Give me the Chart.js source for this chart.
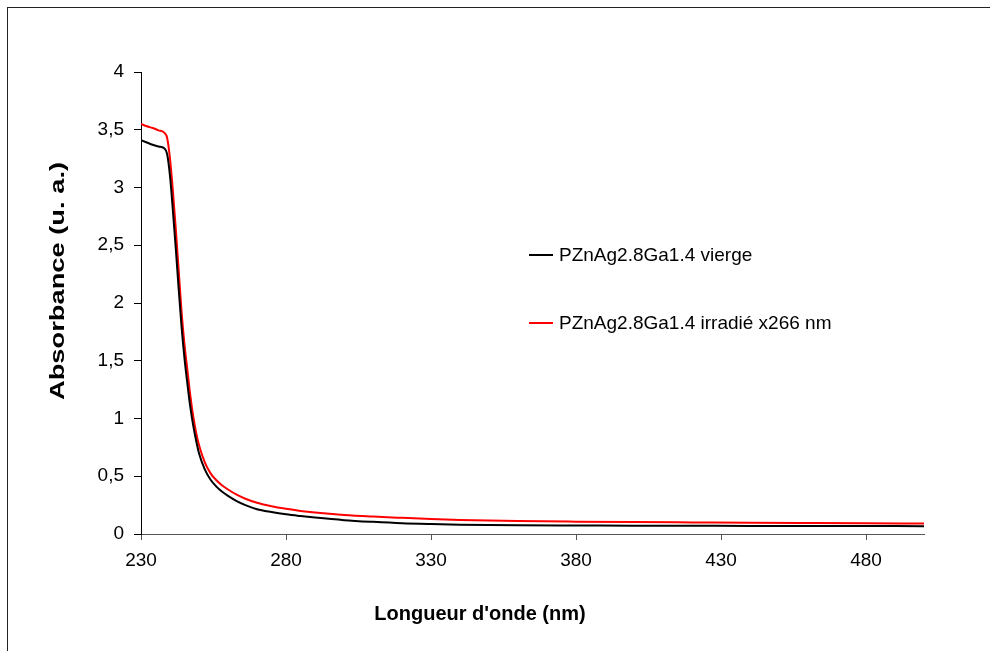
<!DOCTYPE html>
<html>
<head>
<meta charset="utf-8">
<script src="https://cdn.jsdelivr.net/npm/chart.js@4.4.1/dist/chart.umd.min.js"></script>
<style>
  html,body{margin:0;padding:0;background:#fff;overflow:hidden}
  #frame{position:absolute;left:7px;top:7px;width:1100px;height:800px;border:1px solid #222;box-sizing:border-box}
  #wrap{position:absolute;left:0;top:0;width:990px;height:651px}
</style>
</head>
<body>
<div id="frame"></div>
<div id="wrap"><canvas id="chart" width="990" height="651"></canvas></div>
<script>
// wavelength (nm)
const wavelengths = [230,232,234,236,238,239,240,241,242,243,244,245,246,247,248,249,250,252,254,256,258,260,263,266,270,275,280,285,290,300,310,320,330,340,350,360,380,400,420,440,460,480,500];
// absorbance, sample as made
const vierge = [3.41,3.39,3.37,3.355,3.34,3.29,3.1,2.8,2.47,2.12,1.79,1.52,1.3,1.1,0.94,0.81,0.7,0.56,0.47,0.41,0.365,0.33,0.285,0.25,0.215,0.19,0.17,0.155,0.142,0.12,0.105,0.093,0.086,0.081,0.078,0.076,0.074,0.072,0.071,0.07,0.07,0.069,0.068];
// absorbance, after 266 nm irradiation
const irradie = [3.55,3.53,3.515,3.495,3.475,3.43,3.25,2.97,2.64,2.28,1.92,1.64,1.42,1.2,1.02,0.88,0.77,0.62,0.525,0.465,0.42,0.385,0.34,0.305,0.27,0.24,0.218,0.2,0.186,0.165,0.151,0.14,0.13,0.122,0.116,0.112,0.107,0.103,0.1,0.097,0.095,0.093,0.09];
const seriesNames = ['PZnAg2.8Ga1.4 vierge','PZnAg2.8Ga1.4 irradié x266 nm'];
const xTicks = [230,280,330,380,430,480];
const yTicks = [0,0.5,1,1.5,2,2.5,3,3.5,4];

const FONT = 'Arial, "Liberation Sans", sans-serif';

const pairs = ys => wavelengths.map((x,i)=>({x, y: ys[i]}));

// axis titles + legend, placed like the original sheet
const decor = {
  id:'decor',
  afterDraw(chart){
    const ctx = chart.ctx;
    ctx.save();
    ctx.fillStyle = '#000';
    ctx.font = 'bold 20px ' + FONT;
    ctx.textAlign = 'center'; ctx.textBaseline = 'middle';
    ctx.fillText("Longueur d'onde (nm)", 480, 614);
    // the rotated title is drawn longer in the original
    ctx.font = 'bold 21px ' + FONT;
    ctx.translate(58, 281); ctx.rotate(-Math.PI/2); ctx.scale(1.3, 1);
    ctx.fillText('Absorbance (u. a.)', 0, 0);
    ctx.restore();

    ctx.save();
    ctx.font = '19px ' + FONT;
    ctx.textAlign = 'left'; ctx.textBaseline = 'middle';
    const rows = [255, 323];
    chart.data.datasets.forEach((ds,i)=>{
      const y = rows[i];
      ctx.strokeStyle = ds.borderColor; ctx.lineWidth = 2;
      ctx.beginPath(); ctx.moveTo(529,y); ctx.lineTo(553,y); ctx.stroke();
      ctx.fillStyle = '#000';
      ctx.fillText(ds.label, 559, y+1);
    });
    ctx.restore();
  }
};

new Chart(document.getElementById('chart'),{
  type:'line',
  data:{
    datasets:[
      {label: seriesNames[0], data: pairs(vierge), borderColor:'#000000', borderWidth:2, pointRadius:0, cubicInterpolationMode:'monotone', fill:false},
      {label: seriesNames[1], data: pairs(irradie), borderColor:'#ff0000', borderWidth:2, pointRadius:0, cubicInterpolationMode:'monotone', fill:false}
    ]
  },
  options:{
    responsive:false,
    animation:false,
    devicePixelRatio:1,
    layout:{padding:{top:72,right:66,left:0,bottom:0}},
    plugins:{legend:{display:false},tooltip:{enabled:false}},
    scales:{
      x:{
        type:'linear', min:230, max:500,
        afterBuildTicks: s => { s.ticks = xTicks.map(v=>({value:v})); },
        afterFit: s => { s.height = 117; },
        grid:{drawOnChartArea:false, drawTicks:true, tickLength:6, color:'#555'},
        border:{color:'#555', width:1},
        ticks:{color:'#000', font:{family:FONT, size:19}, padding:9, maxRotation:0, autoSkip:false}
      },
      y:{
        type:'linear', min:0, max:4,
        afterBuildTicks: s => { s.ticks = yTicks.map(v=>({value:v})); },
        afterFit: s => { s.width = 141; },
        grid:{drawOnChartArea:false, drawTicks:true, tickLength:7, color:'#000'},
        border:{color:'#000', width:1},
        ticks:{color:'#000', font:{family:FONT, size:19}, padding:10,
          callback: v => String(v).replace('.', ',')}
      }
    }
  },
  plugins:[decor]
});
</script>
</body>
</html>
